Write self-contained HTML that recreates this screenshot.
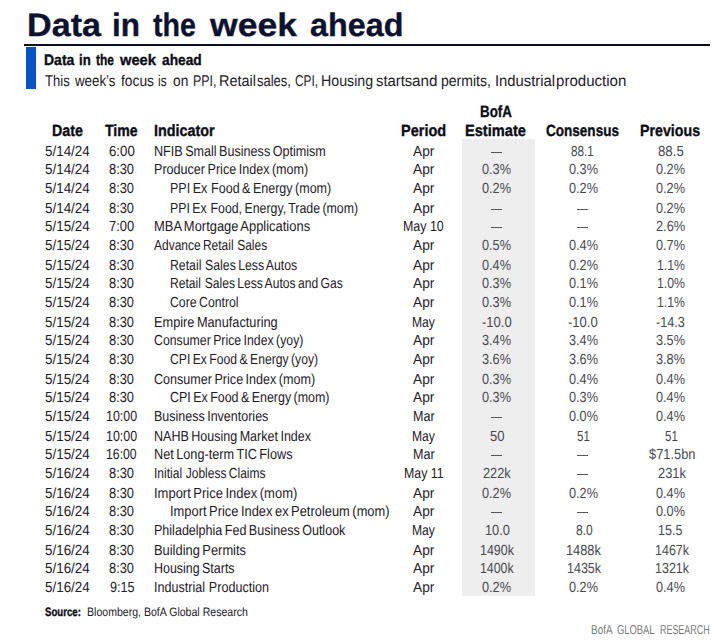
<!DOCTYPE html>
<html lang="en"><head><meta charset="utf-8"><title>Data in the week ahead</title>
<style>
html,body{margin:0;padding:0;background:#fff}
body{width:725px;height:642px;position:relative;overflow:hidden;font-family:"Liberation Sans",sans-serif}
.t{position:absolute;white-space:pre;line-height:20px;transform-origin:0 0;font-weight:400;text-rendering:geometricPrecision}
.b{font-weight:700;-webkit-text-stroke:0.35px currentColor}
.g{display:inline-block;width:1.6px}
.rule{position:absolute;left:24px;top:44px;width:686px;height:2px;background:#0b0e22}
.bar{position:absolute;left:26px;top:47px;width:10px;height:41.6px;background:#0a52c8}
.shade{position:absolute;left:462.4px;top:139px;width:72.4px;height:457.3px;background:#eee}
.d{position:absolute;width:11px;height:1px;background:#55575c}
h1,h2,p{margin:0;font-size:inherit;font-weight:inherit}
</style></head><body>
<h1><span class="t b" style="left:26.87px;top:15px;font-size:32.4px;color:#0c1230;transform:scaleX(1.0541)">Data</span> <span class="t b" style="left:111.73px;top:15px;font-size:32.4px;color:#0c1230;transform:scaleX(0.9720)">in</span> <span class="t b" style="left:152.5px;top:15px;font-size:32.4px;color:#0c1230;transform:scaleX(0.8831)">the</span> <span class="t b" style="left:210.36px;top:15px;font-size:32.4px;color:#0c1230;transform:scaleX(1.0968)">week</span> <span class="t b" style="left:309.6px;top:15px;font-size:32.4px;color:#0c1230;transform:scaleX(0.9973)">ahead</span></h1>
<div class="rule"></div><div class="bar"></div><div class="shade"></div>
<h2><span class="t b" style="left:43.92px;top:51px;font-size:15.2px;color:#0b0d16;transform:scaleX(0.9230)">Data</span> <span class="t b" style="left:79.07px;top:51px;font-size:15.2px;color:#0b0d16;transform:scaleX(0.8718)">in</span> <span class="t b" style="left:96.03px;top:51px;font-size:15.2px;color:#0b0d16;transform:scaleX(0.7918)">the</span> <span class="t b" style="left:120.13px;top:51px;font-size:15.2px;color:#0b0d16;transform:scaleX(0.9683)">week</span> <span class="t b" style="left:161.89px;top:51px;font-size:15.2px;color:#0b0d16;transform:scaleX(0.9041)">ahead</span></h2>
<p><span class="t" style="left:45.2px;top:72px;font-size:15.6px;color:#1e2026;transform:scaleX(0.8386)">This</span> <span class="t" style="left:75.31px;top:72px;font-size:15.6px;color:#1e2026;transform:scaleX(0.8527)">week’s</span> <span class="t" style="left:120.7px;top:72px;font-size:15.6px;color:#1e2026;transform:scaleX(0.8860)">focus</span> <span class="t" style="left:158.43px;top:72px;font-size:15.6px;color:#1e2026;transform:scaleX(0.7606)">is</span> <span class="t" style="left:173.27px;top:72px;font-size:15.6px;color:#1e2026;transform:scaleX(0.8815)">on</span> <span class="t" style="left:193.03px;top:72px;font-size:15.6px;color:#1e2026;transform:scaleX(0.7975)">PPI,</span> <span class="t" style="left:219.27px;top:72px;font-size:15.6px;color:#1e2026;transform:scaleX(0.9248)">Retail</span> <span class="t" style="left:257.1px;top:72px;font-size:15.6px;color:#1e2026;transform:scaleX(0.8337)">sales,</span> <span class="t" style="left:294.88px;top:72px;font-size:15.6px;color:#1e2026;transform:scaleX(0.7606)">CPI,</span> <span class="t" style="left:320.59px;top:72px;font-size:15.6px;color:#1e2026;transform:scaleX(0.9107)">Housing</span> <span class="t" style="left:375.57px;top:72px;font-size:15.6px;color:#1e2026;transform:scaleX(0.9520)">starts</span> <span class="t" style="left:411.82px;top:72px;font-size:15.6px;color:#1e2026;transform:scaleX(0.9770)">and</span> <span class="t" style="left:441.32px;top:72px;font-size:15.6px;color:#1e2026;transform:scaleX(0.9001)">permits,</span> <span class="t" style="left:494.54px;top:72px;font-size:15.6px;color:#1e2026;transform:scaleX(0.9503)">Industrial</span> <span class="t" style="left:555.56px;top:72px;font-size:15.6px;color:#1e2026;transform:scaleX(0.9665)">production</span></p>
<div class="thead"><span class="t b" style="left:52px;top:121px;font-size:16.2px;color:#0b0d16;transform:scaleX(0.8849)">Date</span><span class="t b" style="left:104.9px;top:121px;font-size:16.2px;color:#0b0d16;transform:scaleX(0.8707)">Time</span><span class="t b" style="left:153.7px;top:121px;font-size:16.2px;color:#0b0d16;transform:scaleX(0.8880)">Indicator</span><span class="t b" style="left:401.49px;top:121px;font-size:16.2px;color:#0b0d16;transform:scaleX(0.8981)">Period</span><span class="t b" style="left:480.47px;top:102px;font-size:16.2px;color:#0b0d16;transform:scaleX(0.8246)">BofA</span><span class="t b" style="left:465.49px;top:121px;font-size:16.2px;color:#0b0d16;transform:scaleX(0.9021)">Estimate</span><span class="t b" style="left:546.28px;top:121px;font-size:16.2px;color:#0b0d16;transform:scaleX(0.8362)">Consensus</span><span class="t b" style="left:640.11px;top:121px;font-size:16.2px;color:#0b0d16;transform:scaleX(0.8783)">Previous</span></div>
<div class="tr"><span class="t" style="left:45.48px;top:142px;font-size:14.6px;color:#1e2026;transform:scaleX(0.9189)">5/14/24</span><span class="t" style="left:108.98px;top:142px;font-size:14.6px;color:#1e2026;transform:scaleX(0.9065)">6:00</span><span class="t" style="left:153.62px;top:142px;font-size:14.6px;color:#1e2026;transform:scaleX(0.8629);word-spacing:-1.2px">NFIB Small Business Optimism</span><span class="t" style="left:412.75px;top:142px;font-size:14.6px;color:#1e2026;transform:scaleX(0.9405)">Apr</span><span class="t" style="left:571.08px;top:142px;font-size:14.6px;color:#474a50;transform:scaleX(0.8005)">88.1</span><span class="t" style="left:658.09px;top:142px;font-size:14.6px;color:#474a50;transform:scaleX(0.9065)">88.5</span></div>
<div class="tr"><span class="t" style="left:45.48px;top:160px;font-size:14.6px;color:#1e2026;transform:scaleX(0.9189)">5/14/24</span><span class="t" style="left:109.45px;top:160px;font-size:14.6px;color:#1e2026;transform:scaleX(0.8809)">8:30</span><span class="t" style="left:153.62px;top:160px;font-size:14.6px;color:#1e2026;transform:scaleX(0.8622);word-spacing:-1.2px">Producer Price Index (mom)</span><span class="t" style="left:412.75px;top:160px;font-size:14.6px;color:#1e2026;transform:scaleX(0.9405)">Apr</span><span class="t" style="left:482.4px;top:160px;font-size:14.6px;color:#474a50;transform:scaleX(0.8711)">0.3%</span><span class="t" style="left:568.9px;top:160px;font-size:14.6px;color:#474a50;transform:scaleX(0.8711)">0.3%</span><span class="t" style="left:656.4px;top:160px;font-size:14.6px;color:#474a50;transform:scaleX(0.8711)">0.2%</span></div>
<div class="tr"><span class="t" style="left:45.48px;top:179px;font-size:14.6px;color:#1e2026;transform:scaleX(0.9189)">5/14/24</span><span class="t" style="left:109.45px;top:179px;font-size:14.6px;color:#1e2026;transform:scaleX(0.8809)">8:30</span><span class="t" style="left:169.72px;top:179px;font-size:14.6px;color:#1e2026;transform:scaleX(0.8584);word-spacing:-1.2px">PPI Ex<i class="g"></i> Food &amp; Energy (mom)</span><span class="t" style="left:412.75px;top:179px;font-size:14.6px;color:#1e2026;transform:scaleX(0.9405)">Apr</span><span class="t" style="left:482.4px;top:179px;font-size:14.6px;color:#474a50;transform:scaleX(0.8711)">0.2%</span><span class="t" style="left:568.9px;top:179px;font-size:14.6px;color:#474a50;transform:scaleX(0.8711)">0.2%</span><span class="t" style="left:656.4px;top:179px;font-size:14.6px;color:#474a50;transform:scaleX(0.8711)">0.2%</span></div>
<div class="tr"><span class="t" style="left:45.48px;top:199px;font-size:14.6px;color:#1e2026;transform:scaleX(0.9189)">5/14/24</span><span class="t" style="left:109.45px;top:199px;font-size:14.6px;color:#1e2026;transform:scaleX(0.8809)">8:30</span><span class="t" style="left:169.74px;top:199px;font-size:14.6px;color:#1e2026;transform:scaleX(0.8456);word-spacing:-1.2px">PPI Ex<i class="g"></i> Food, Energy, Trade (mom)</span><span class="t" style="left:412.75px;top:199px;font-size:14.6px;color:#1e2026;transform:scaleX(0.9405)">Apr</span><span class="t" style="left:656.4px;top:199px;font-size:14.6px;color:#474a50;transform:scaleX(0.8711)">0.2%</span></div>
<div class="tr"><span class="t" style="left:45.48px;top:217px;font-size:14.6px;color:#1e2026;transform:scaleX(0.9189)">5/15/24</span><span class="t" style="left:109.24px;top:217px;font-size:14.6px;color:#1e2026;transform:scaleX(0.8882)">7:00</span><span class="t" style="left:153.59px;top:217px;font-size:14.6px;color:#1e2026;transform:scaleX(0.8866);word-spacing:-1.2px">MBA Mortgage Applications</span><span class="t" style="left:403.08px;top:217px;font-size:14.6px;color:#1e2026;transform:scaleX(0.8521)">May 10</span><span class="t" style="left:656.2px;top:217px;font-size:14.6px;color:#474a50;transform:scaleX(0.8772)">2.6%</span></div>
<div class="tr"><span class="t" style="left:45.48px;top:236px;font-size:14.6px;color:#1e2026;transform:scaleX(0.9189)">5/15/24</span><span class="t" style="left:109.45px;top:236px;font-size:14.6px;color:#1e2026;transform:scaleX(0.8809)">8:30</span><span class="t" style="left:153.8px;top:236px;font-size:14.6px;color:#1e2026;transform:scaleX(0.8205);word-spacing:-1.2px">Advance Retail<i class="g"></i> Sales</span><span class="t" style="left:412.75px;top:236px;font-size:14.6px;color:#1e2026;transform:scaleX(0.9405)">Apr</span><span class="t" style="left:482.4px;top:236px;font-size:14.6px;color:#474a50;transform:scaleX(0.8711)">0.5%</span><span class="t" style="left:568.9px;top:236px;font-size:14.6px;color:#474a50;transform:scaleX(0.8711)">0.4%</span><span class="t" style="left:656.4px;top:236px;font-size:14.6px;color:#474a50;transform:scaleX(0.8711)">0.7%</span></div>
<div class="tr"><span class="t" style="left:45.48px;top:256px;font-size:14.6px;color:#1e2026;transform:scaleX(0.9189)">5/15/24</span><span class="t" style="left:109.45px;top:256px;font-size:14.6px;color:#1e2026;transform:scaleX(0.8809)">8:30</span><span class="t" style="left:169.74px;top:256px;font-size:14.6px;color:#1e2026;transform:scaleX(0.8408);word-spacing:-1.2px">Retail<i class="g"></i> Sales Less Autos</span><span class="t" style="left:412.75px;top:256px;font-size:14.6px;color:#1e2026;transform:scaleX(0.9405)">Apr</span><span class="t" style="left:482.4px;top:256px;font-size:14.6px;color:#474a50;transform:scaleX(0.8711)">0.4%</span><span class="t" style="left:568.9px;top:256px;font-size:14.6px;color:#474a50;transform:scaleX(0.8711)">0.2%</span><span class="t" style="left:657.23px;top:256px;font-size:14.6px;color:#474a50;transform:scaleX(0.8396)">1.1%</span></div>
<div class="tr"><span class="t" style="left:45.48px;top:274px;font-size:14.6px;color:#1e2026;transform:scaleX(0.9189)">5/15/24</span><span class="t" style="left:109.45px;top:274px;font-size:14.6px;color:#1e2026;transform:scaleX(0.8809)">8:30</span><span class="t" style="left:169.75px;top:274px;font-size:14.6px;color:#1e2026;transform:scaleX(0.8298);word-spacing:-1.2px">Retail<i class="g"></i> Sales Less Autos and Gas</span><span class="t" style="left:412.75px;top:274px;font-size:14.6px;color:#1e2026;transform:scaleX(0.9405)">Apr</span><span class="t" style="left:482.4px;top:274px;font-size:14.6px;color:#474a50;transform:scaleX(0.8711)">0.3%</span><span class="t" style="left:568.9px;top:274px;font-size:14.6px;color:#474a50;transform:scaleX(0.8711)">0.1%</span><span class="t" style="left:657.23px;top:274px;font-size:14.6px;color:#474a50;transform:scaleX(0.8396)">1.0%</span></div>
<div class="tr"><span class="t" style="left:45.48px;top:293px;font-size:14.6px;color:#1e2026;transform:scaleX(0.9189)">5/15/24</span><span class="t" style="left:109.45px;top:293px;font-size:14.6px;color:#1e2026;transform:scaleX(0.8809)">8:30</span><span class="t" style="left:170.12px;top:293px;font-size:14.6px;color:#1e2026;transform:scaleX(0.8412);word-spacing:-1.2px">Core Control</span><span class="t" style="left:412.75px;top:293px;font-size:14.6px;color:#1e2026;transform:scaleX(0.9405)">Apr</span><span class="t" style="left:482.4px;top:293px;font-size:14.6px;color:#474a50;transform:scaleX(0.8711)">0.3%</span><span class="t" style="left:568.9px;top:293px;font-size:14.6px;color:#474a50;transform:scaleX(0.8711)">0.1%</span><span class="t" style="left:657.23px;top:293px;font-size:14.6px;color:#474a50;transform:scaleX(0.8396)">1.1%</span></div>
<div class="tr"><span class="t" style="left:45.48px;top:313px;font-size:14.6px;color:#1e2026;transform:scaleX(0.9189)">5/15/24</span><span class="t" style="left:109.45px;top:313px;font-size:14.6px;color:#1e2026;transform:scaleX(0.8809)">8:30</span><span class="t" style="left:153.6px;top:313px;font-size:14.6px;color:#1e2026;transform:scaleX(0.8739);word-spacing:-1.2px">Empire Manufacturing</span><span class="t" style="left:411.85px;top:313px;font-size:14.6px;color:#1e2026;transform:scaleX(0.8322)">May</span><span class="t" style="left:481.99px;top:313px;font-size:14.6px;color:#474a50;transform:scaleX(0.8938)">-10.0</span><span class="t" style="left:568.49px;top:313px;font-size:14.6px;color:#474a50;transform:scaleX(0.8938)">-10.0</span><span class="t" style="left:655.7px;top:313px;font-size:14.6px;color:#474a50;transform:scaleX(0.8691)">-14.3</span></div>
<div class="tr"><span class="t" style="left:45.48px;top:331px;font-size:14.6px;color:#1e2026;transform:scaleX(0.9189)">5/15/24</span><span class="t" style="left:109.45px;top:331px;font-size:14.6px;color:#1e2026;transform:scaleX(0.8809)">8:30</span><span class="t" style="left:154.02px;top:331px;font-size:14.6px;color:#1e2026;transform:scaleX(0.8429);word-spacing:-1.2px">Consumer Price Index (yoy)</span><span class="t" style="left:412.75px;top:331px;font-size:14.6px;color:#1e2026;transform:scaleX(0.9405)">Apr</span><span class="t" style="left:482.4px;top:331px;font-size:14.6px;color:#474a50;transform:scaleX(0.8711)">3.4%</span><span class="t" style="left:568.9px;top:331px;font-size:14.6px;color:#474a50;transform:scaleX(0.8711)">3.4%</span><span class="t" style="left:656.4px;top:331px;font-size:14.6px;color:#474a50;transform:scaleX(0.8711)">3.5%</span></div>
<div class="tr"><span class="t" style="left:45.48px;top:350px;font-size:14.6px;color:#1e2026;transform:scaleX(0.9189)">5/15/24</span><span class="t" style="left:109.45px;top:350px;font-size:14.6px;color:#1e2026;transform:scaleX(0.8809)">8:30</span><span class="t" style="left:170.13px;top:350px;font-size:14.6px;color:#1e2026;transform:scaleX(0.8353);word-spacing:-1.2px">CPI Ex Food &amp; Energy (yoy)</span><span class="t" style="left:412.75px;top:350px;font-size:14.6px;color:#1e2026;transform:scaleX(0.9405)">Apr</span><span class="t" style="left:482.4px;top:350px;font-size:14.6px;color:#474a50;transform:scaleX(0.8711)">3.6%</span><span class="t" style="left:568.9px;top:350px;font-size:14.6px;color:#474a50;transform:scaleX(0.8711)">3.6%</span><span class="t" style="left:656.4px;top:350px;font-size:14.6px;color:#474a50;transform:scaleX(0.8711)">3.8%</span></div>
<div class="tr"><span class="t" style="left:45.48px;top:370px;font-size:14.6px;color:#1e2026;transform:scaleX(0.9189)">5/15/24</span><span class="t" style="left:109.45px;top:370px;font-size:14.6px;color:#1e2026;transform:scaleX(0.8809)">8:30</span><span class="t" style="left:154.01px;top:370px;font-size:14.6px;color:#1e2026;transform:scaleX(0.8618);word-spacing:-1.2px">Consumer Price Index (mom)</span><span class="t" style="left:412.75px;top:370px;font-size:14.6px;color:#1e2026;transform:scaleX(0.9405)">Apr</span><span class="t" style="left:482.4px;top:370px;font-size:14.6px;color:#474a50;transform:scaleX(0.8711)">0.3%</span><span class="t" style="left:568.9px;top:370px;font-size:14.6px;color:#474a50;transform:scaleX(0.8711)">0.4%</span><span class="t" style="left:656.4px;top:370px;font-size:14.6px;color:#474a50;transform:scaleX(0.8711)">0.4%</span></div>
<div class="tr"><span class="t" style="left:45.48px;top:388px;font-size:14.6px;color:#1e2026;transform:scaleX(0.9189)">5/15/24</span><span class="t" style="left:109.45px;top:388px;font-size:14.6px;color:#1e2026;transform:scaleX(0.8809)">8:30</span><span class="t" style="left:170.12px;top:388px;font-size:14.6px;color:#1e2026;transform:scaleX(0.8529);word-spacing:-1.2px">CPI Ex Food &amp; Energy (mom)</span><span class="t" style="left:412.75px;top:388px;font-size:14.6px;color:#1e2026;transform:scaleX(0.9405)">Apr</span><span class="t" style="left:482.4px;top:388px;font-size:14.6px;color:#474a50;transform:scaleX(0.8711)">0.3%</span><span class="t" style="left:568.9px;top:388px;font-size:14.6px;color:#474a50;transform:scaleX(0.8711)">0.3%</span><span class="t" style="left:656.4px;top:388px;font-size:14.6px;color:#474a50;transform:scaleX(0.8711)">0.4%</span></div>
<div class="tr"><span class="t" style="left:45.48px;top:407px;font-size:14.6px;color:#1e2026;transform:scaleX(0.9189)">5/15/24</span><span class="t" style="left:106.22px;top:407px;font-size:14.6px;color:#1e2026;transform:scaleX(0.8509)">10:00</span><span class="t" style="left:153.62px;top:407px;font-size:14.6px;color:#1e2026;transform:scaleX(0.8569);word-spacing:-1.2px">Business Inventories</span><span class="t" style="left:412.52px;top:407px;font-size:14.6px;color:#1e2026;transform:scaleX(0.8609)">Mar</span><span class="t" style="left:568.9px;top:407px;font-size:14.6px;color:#474a50;transform:scaleX(0.8711)">0.0%</span><span class="t" style="left:656.4px;top:407px;font-size:14.6px;color:#474a50;transform:scaleX(0.8711)">0.4%</span></div>
<div class="tr"><span class="t" style="left:45.48px;top:427px;font-size:14.6px;color:#1e2026;transform:scaleX(0.9189)">5/15/24</span><span class="t" style="left:106.22px;top:427px;font-size:14.6px;color:#1e2026;transform:scaleX(0.8509)">10:00</span><span class="t" style="left:153.62px;top:427px;font-size:14.6px;color:#1e2026;transform:scaleX(0.8585);word-spacing:-1.2px">NAHB Housing Market Index</span><span class="t" style="left:411.85px;top:427px;font-size:14.6px;color:#1e2026;transform:scaleX(0.8322)">May</span><span class="t" style="left:489.59px;top:427px;font-size:14.6px;color:#474a50;transform:scaleX(0.8953)">50</span><span class="t" style="left:577.04px;top:427px;font-size:14.6px;color:#474a50;transform:scaleX(0.7902)">51</span><span class="t" style="left:664.54px;top:427px;font-size:14.6px;color:#474a50;transform:scaleX(0.7902)">51</span></div>
<div class="tr"><span class="t" style="left:45.48px;top:445px;font-size:14.6px;color:#1e2026;transform:scaleX(0.9189)">5/15/24</span><span class="t" style="left:106.43px;top:445px;font-size:14.6px;color:#1e2026;transform:scaleX(0.8396)">16:00</span><span class="t" style="left:153.61px;top:445px;font-size:14.6px;color:#1e2026;transform:scaleX(0.8702);word-spacing:-1.2px">Net Long-term TIC Flows</span><span class="t" style="left:412.52px;top:445px;font-size:14.6px;color:#1e2026;transform:scaleX(0.8609)">Mar</span><span class="t" style="left:649.4px;top:445px;font-size:14.6px;color:#474a50;transform:scaleX(0.8817)">$71.5bn</span></div>
<div class="tr"><span class="t" style="left:45.48px;top:464px;font-size:14.6px;color:#1e2026;transform:scaleX(0.9189)">5/16/24</span><span class="t" style="left:109.45px;top:464px;font-size:14.6px;color:#1e2026;transform:scaleX(0.8809)">8:30</span><span class="t" style="left:153.66px;top:464px;font-size:14.6px;color:#1e2026;transform:scaleX(0.8232);word-spacing:-1.2px">Initial<i class="g"></i> Jobless Claims</span><span class="t" style="left:403.79px;top:464px;font-size:14.6px;color:#1e2026;transform:scaleX(0.8457)">May 11</span><span class="t" style="left:483.2px;top:464px;font-size:14.6px;color:#474a50;transform:scaleX(0.8718)">222k</span><span class="t" style="left:657.75px;top:464px;font-size:14.6px;color:#474a50;transform:scaleX(0.8814)">231k</span></div>
<div class="tr"><span class="t" style="left:45.48px;top:484px;font-size:14.6px;color:#1e2026;transform:scaleX(0.9189)">5/16/24</span><span class="t" style="left:109.45px;top:484px;font-size:14.6px;color:#1e2026;transform:scaleX(0.8809)">8:30</span><span class="t" style="left:153.59px;top:484px;font-size:14.6px;color:#1e2026;transform:scaleX(0.8898);word-spacing:-1.2px">Import Price Index (mom)</span><span class="t" style="left:412.75px;top:484px;font-size:14.6px;color:#1e2026;transform:scaleX(0.9405)">Apr</span><span class="t" style="left:482.4px;top:484px;font-size:14.6px;color:#474a50;transform:scaleX(0.8711)">0.2%</span><span class="t" style="left:568.9px;top:484px;font-size:14.6px;color:#474a50;transform:scaleX(0.8711)">0.2%</span><span class="t" style="left:656.4px;top:484px;font-size:14.6px;color:#474a50;transform:scaleX(0.8711)">0.4%</span></div>
<div class="tr"><span class="t" style="left:45.48px;top:502px;font-size:14.6px;color:#1e2026;transform:scaleX(0.9189)">5/16/24</span><span class="t" style="left:109.45px;top:502px;font-size:14.6px;color:#1e2026;transform:scaleX(0.8809)">8:30</span><span class="t" style="left:169.69px;top:502px;font-size:14.6px;color:#1e2026;transform:scaleX(0.8830);word-spacing:-1.2px">Import Price Index ex Petroleum (mom)</span><span class="t" style="left:412.75px;top:502px;font-size:14.6px;color:#1e2026;transform:scaleX(0.9405)">Apr</span><span class="t" style="left:656.4px;top:502px;font-size:14.6px;color:#474a50;transform:scaleX(0.8711)">0.0%</span></div>
<div class="tr"><span class="t" style="left:45.48px;top:521px;font-size:14.6px;color:#1e2026;transform:scaleX(0.9189)">5/16/24</span><span class="t" style="left:109.45px;top:521px;font-size:14.6px;color:#1e2026;transform:scaleX(0.8809)">8:30</span><span class="t" style="left:153.62px;top:521px;font-size:14.6px;color:#1e2026;transform:scaleX(0.8592);word-spacing:-1.2px">Philadelphia Fed Business Outlook</span><span class="t" style="left:411.85px;top:521px;font-size:14.6px;color:#1e2026;transform:scaleX(0.8322)">May</span><span class="t" style="left:485.1px;top:521px;font-size:14.6px;color:#474a50;transform:scaleX(0.8773)">10.0</span><span class="t" style="left:575.57px;top:521px;font-size:14.6px;color:#474a50;transform:scaleX(0.8266)">8.0</span><span class="t" style="left:658.37px;top:521px;font-size:14.6px;color:#474a50;transform:scaleX(0.8587)">15.5</span></div>
<div class="tr"><span class="t" style="left:45.48px;top:541px;font-size:14.6px;color:#1e2026;transform:scaleX(0.9189)">5/16/24</span><span class="t" style="left:109.45px;top:541px;font-size:14.6px;color:#1e2026;transform:scaleX(0.8809)">8:30</span><span class="t" style="left:153.59px;top:541px;font-size:14.6px;color:#1e2026;transform:scaleX(0.8826);word-spacing:-1.2px">Building Permits</span><span class="t" style="left:412.75px;top:541px;font-size:14.6px;color:#1e2026;transform:scaleX(0.9405)">Apr</span><span class="t" style="left:479.77px;top:541px;font-size:14.6px;color:#474a50;transform:scaleX(0.8521)">1490k</span><span class="t" style="left:566.05px;top:541px;font-size:14.6px;color:#474a50;transform:scaleX(0.8777)">1488k</span><span class="t" style="left:655.27px;top:541px;font-size:14.6px;color:#474a50;transform:scaleX(0.8572)">1467k</span></div>
<div class="tr"><span class="t" style="left:45.48px;top:559px;font-size:14.6px;color:#1e2026;transform:scaleX(0.9189)">5/16/24</span><span class="t" style="left:109.45px;top:559px;font-size:14.6px;color:#1e2026;transform:scaleX(0.8809)">8:30</span><span class="t" style="left:153.63px;top:559px;font-size:14.6px;color:#1e2026;transform:scaleX(0.8524);word-spacing:-1.2px">Housing Starts</span><span class="t" style="left:412.75px;top:559px;font-size:14.6px;color:#1e2026;transform:scaleX(0.9405)">Apr</span><span class="t" style="left:479.78px;top:559px;font-size:14.6px;color:#474a50;transform:scaleX(0.8470)">1400k</span><span class="t" style="left:566.67px;top:559px;font-size:14.6px;color:#474a50;transform:scaleX(0.8572)">1435k</span><span class="t" style="left:655.27px;top:559px;font-size:14.6px;color:#474a50;transform:scaleX(0.8572)">1321k</span></div>
<div class="tr"><span class="t" style="left:45.48px;top:578px;font-size:14.6px;color:#1e2026;transform:scaleX(0.9189)">5/16/24</span><span class="t" style="left:109.66px;top:578px;font-size:14.6px;color:#1e2026;transform:scaleX(0.8662)">9:15</span><span class="t" style="left:153.62px;top:578px;font-size:14.6px;color:#1e2026;transform:scaleX(0.8617);word-spacing:-1.2px">Industrial<i class="g"></i> Production</span><span class="t" style="left:412.75px;top:578px;font-size:14.6px;color:#1e2026;transform:scaleX(0.9405)">Apr</span><span class="t" style="left:482.4px;top:578px;font-size:14.6px;color:#474a50;transform:scaleX(0.8711)">0.2%</span><span class="t" style="left:568.9px;top:578px;font-size:14.6px;color:#474a50;transform:scaleX(0.8711)">0.2%</span><span class="t" style="left:656.4px;top:578px;font-size:14.6px;color:#474a50;transform:scaleX(0.8711)">0.4%</span></div>
<div class="dashes"><i class="d" style="left:490.7px;top:152px"></i><i class="d" style="left:490.7px;top:209px"></i><i class="d" style="left:577.2px;top:209px"></i><i class="d" style="left:490.7px;top:227px"></i><i class="d" style="left:577.2px;top:227px"></i><i class="d" style="left:490.7px;top:417px"></i><i class="d" style="left:490.7px;top:455px"></i><i class="d" style="left:577.2px;top:455px"></i><i class="d" style="left:577.2px;top:474px"></i><i class="d" style="left:490.7px;top:512px"></i><i class="d" style="left:577.2px;top:512px"></i></div>
<p><span class="t b" style="left:45.35px;top:602px;font-size:12.2px;color:#0b0d16;transform:scaleX(0.7898)">Source:</span><span class="t" style="left:86.77px;top:602px;font-size:12.2px;color:#1e2026;transform:scaleX(0.8664)">Bloomberg, BofA Global Research</span></p>
<p><span class="t" style="left:591.45px;top:620px;font-size:12.9px;color:#77787b;transform:scaleX(0.7717)">BofA</span> <span class="t" style="left:617.36px;top:620px;font-size:12.9px;color:#77787b;transform:scaleX(0.7283)">GLOBAL</span> <span class="t" style="left:660.2px;top:620px;font-size:12.9px;color:#77787b;transform:scaleX(0.6927)">RESEARCH</span></p>
</body></html>
